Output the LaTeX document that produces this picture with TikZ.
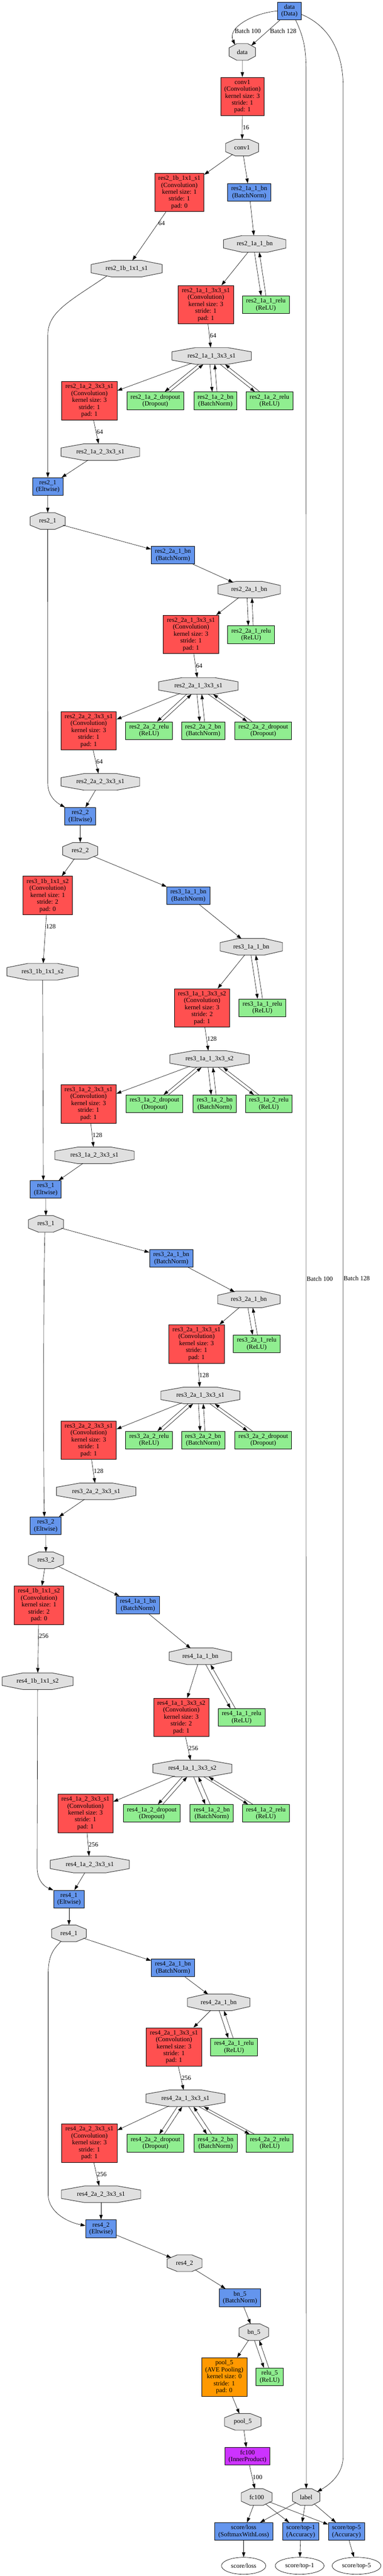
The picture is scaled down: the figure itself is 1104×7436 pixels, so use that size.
\documentclass[tikz,border=0pt]{standalone}
\usepackage{fontspec}
\setmainfont{Liberation Serif}
\usetikzlibrary{arrows.meta,calc,shapes.geometric}
\definecolor{convred}{HTML}{FF5050}
\definecolor{lblue}{HTML}{6495ED}
\definecolor{lgreen}{HTML}{90EE90}
\definecolor{bgray}{HTML}{E0E0E0}
\definecolor{porange}{HTML}{FF9900}
\definecolor{ppurple}{HTML}{CC33FF}
\newcommand\gvf{\fontsize{18.5pt}{20pt}\selectfont}
\newcommand\convtxt[4]{#1\\(Convolution)\\kernel size: #2\\stride: #3\\pad: #4}
\tikzset{
  gvlayer/.style={draw=black, line width=1.2pt, font=\gvf, align=center, inner xsep=10.5pt, inner ysep=3pt},
  gvconv/.style={gvlayer, fill=convred, minimum height=111pt},
  gvpool/.style={gvlayer, fill=porange, minimum height=111pt},
  gvip/.style={gvlayer, fill=ppurple, minimum height=51pt},
  gvblue/.style={gvlayer, fill=lblue, minimum height=51pt},
  gvgreen/.style={gvlayer, fill=lgreen, minimum height=51pt},
  blobshape/.style={draw=black!80, line width=1.4pt, fill=bgray},
  blobtxt/.style={ellipse, inner sep=0pt, font=\gvf, minimum height=48pt},
  gvout/.style={ellipse, draw=black, line width=1pt, fill=white, font=\gvf, minimum height=49pt, inner sep=0pt},
  arr/.style={-{Triangle[length=14pt,width=9.5pt]}, line width=0.9pt},
  lbl/.style={font=\gvf, inner sep=1pt, anchor=west},
}
\newcommand\blob[5]{%
  \filldraw[blobshape] ({#2-#4/2},{#3-12}) -- ({#2-0.207*#4},{#3-24}) -- ({#2+0.207*#4},{#3-24}) -- ({#2+#4/2},{#3-12}) -- ({#2+#4/2},{#3+12}) -- ({#2+0.207*#4},{#3+24}) -- ({#2-0.207*#4},{#3+24}) -- ({#2-#4/2},{#3+12}) -- cycle;
  \node[blobtxt, minimum width=#4pt] (#1) at (#2,#3) {#5};
}
\newcommand\pair[2]{%
  \draw[arr] let \p1=(#1.south), \p2=(#2.north), \n1={0.19*(\x2-\x1)}, \n2={-0.21*(\x2-\x1)} in
    ({\x1+(\n1)-7pt},\y1) -- ({\x2+(\n2)-7pt},\y2);
  \draw[arr] let \p1=(#1.south), \p2=(#2.north), \n1={0.19*(\x2-\x1)}, \n2={-0.21*(\x2-\x1)} in
    ({\x2+(\n2)+7pt},\y2) -- ({\x1+(\n1)+7pt},\y1);
}
\begin{document}
\begin{tikzpicture}[x=1pt,y=-1pt]
\fill[white] (0,0) rectangle (1104,7436);
\useasboundingbox (0,0) rectangle (1104,7436);

% ---------- top ----------
\node[gvblue] (dataL) at (835,31.5) {data\\(Data)};
\blob{dataB}{699}{150}{76}{data}
\node[gvconv] (conv1L) at (699.5,278.5) {\convtxt{conv1}{3}{1}{1}};
\blob{conv1B}{698.5}{426}{95}{conv1}

% ---------- res2_1 ----------
\node[gvconv] (a1b) at (517.5,555.5) {\convtxt{res2\_1b\_1x1\_s1}{1}{1}{0}};
\node[gvblue] (a1bn) at (719,555.5) {res2\_1a\_1\_bn\\(BatchNorm)};
\blob{a1bnB}{735}{704}{180}{res2\_1a\_1\_bn}
\blob{a1bB}{365.5}{775.5}{205}{res2\_1b\_1x1\_s1}
\node[gvconv] (a11c) at (594,879.5) {\convtxt{res2\_1a\_1\_3x3\_s1}{3}{1}{1}};
\node[gvgreen] (a11r) at (767,879.5) {res2\_1a\_1\_relu\\(ReLU)};
\blob{a11B}{610.5}{1027.5}{229}{res2\_1a\_1\_3x3\_s1}
\node[gvconv] (a12c) at (258,1157) {\convtxt{res2\_1a\_2\_3x3\_s1}{3}{1}{1}};
\node[gvgreen] (a12d) at (448,1157) {res2\_1a\_2\_dropout\\(Dropout)};
\node[gvgreen] (a12b) at (621.5,1157) {res2\_1a\_2\_bn\\(BatchNorm)};
\node[gvgreen] (a12r) at (777.5,1157) {res2\_1a\_2\_relu\\(ReLU)};
\blob{a12B}{289.5}{1305}{227}{res2\_1a\_2\_3x3\_s1}
\node[gvblue] (a1L) at (138,1404.5) {res2\_1\\(Eltwise)};
\blob{a1B}{137.5}{1504}{101}{res2\_1}

% ---------- res2_2 ----------
\node[gvblue] (a2bn) at (499,1602.5) {res2\_2a\_1\_bn\\(BatchNorm)};
\blob{a2bnB}{719}{1702}{180}{res2\_2a\_1\_bn}
\node[gvconv] (a21c) at (551,1831.5) {\convtxt{res2\_2a\_1\_3x3\_s1}{3}{1}{1}};
\node[gvgreen] (a21r) at (724.5,1832) {res2\_2a\_1\_relu\\(ReLU)};
\blob{a21B}{572.5}{1980}{229}{res2\_2a\_1\_3x3\_s1}
\node[gvconv] (a22c) at (256,2109.5) {\convtxt{res2\_2a\_2\_3x3\_s1}{3}{1}{1}};
\node[gvgreen] (a22r) at (430,2109) {res2\_2a\_2\_relu\\(ReLU)};
\node[gvgreen] (a22b) at (586,2109) {res2\_2a\_2\_bn\\(BatchNorm)};
\node[gvgreen] (a22d) at (759.5,2109) {res2\_2a\_2\_dropout\\(Dropout)};
\blob{a22B}{289.5}{2257}{227}{res2\_2a\_2\_3x3\_s1}
\node[gvblue] (a2L) at (231.5,2356.5) {res2\_2\\(Eltwise)};
\blob{a2B}{231.5}{2456}{101}{res2\_2}

% ---------- res3_1 ----------
\node[gvconv] (b1b) at (137.5,2585) {\convtxt{res3\_1b\_1x1\_s2}{1}{2}{0}};
\node[gvblue] (b1bn) at (543.5,2585.5) {res3\_1a\_1\_bn\\(BatchNorm)};
\blob{b1bnB}{725}{2733}{180}{res3\_1a\_1\_bn}
\blob{b1bB}{123}{2805}{206}{res3\_1b\_1x1\_s2}
\node[gvconv] (b11c) at (583,2909.5) {\convtxt{res3\_1a\_1\_3x3\_s2}{3}{2}{1}};
\node[gvgreen] (b11r) at (757,2909) {res3\_1a\_1\_relu\\(ReLU)};
\blob{b11B}{604.5}{3057}{229}{res3\_1a\_1\_3x3\_s2}
\node[gvconv] (b12c) at (255.5,3186.5) {\convtxt{res3\_1a\_2\_3x3\_s1}{3}{1}{1}};
\node[gvgreen] (b12d) at (445.5,3186.5) {res3\_1a\_2\_dropout\\(Dropout)};
\node[gvgreen] (b12b) at (619.5,3186.5) {res3\_1a\_2\_bn\\(BatchNorm)};
\node[gvgreen] (b12r) at (775.5,3186.5) {res3\_1a\_2\_relu\\(ReLU)};
\blob{b12B}{272.5}{3335}{229}{res3\_1a\_2\_3x3\_s1}
\node[gvblue] (b1L) at (132,3433.5) {res3\_1\\(Eltwise)};
\blob{b1B}{132.5}{3533}{101}{res3\_1}

% ---------- res3_2 ----------
\node[gvblue] (b2bn) at (494,3632.5) {res3\_2a\_1\_bn\\(BatchNorm)};
\blob{b2bnB}{718}{3751}{180}{res3\_2a\_1\_bn}
\node[gvconv] (b21c) at (567,3879.5) {\convtxt{res3\_2a\_1\_3x3\_s1}{3}{1}{1}};
\node[gvgreen] (b21r) at (740.5,3879.5) {res3\_2a\_1\_relu\\(ReLU)};
\blob{b21B}{578}{4028}{228}{res3\_2a\_1\_3x3\_s1}
\node[gvconv] (b22c) at (256,4157.5) {\convtxt{res3\_2a\_2\_3x3\_s1}{3}{1}{1}};
\node[gvgreen] (b22r) at (430,4157) {res3\_2a\_2\_relu\\(ReLU)};
\node[gvgreen] (b22b) at (586,4157) {res3\_2a\_2\_bn\\(BatchNorm)};
\node[gvgreen] (b22d) at (759.5,4157) {res3\_2a\_2\_dropout\\(Dropout)};
\blob{b22B}{277.5}{4305}{229}{res3\_2a\_2\_3x3\_s1}
\node[gvblue] (b2L) at (132,4404.5) {res3\_2\\(Eltwise)};
\blob{b2B}{132.5}{4504}{101}{res3\_2}

% ---------- res4_1 ----------
\node[gvconv] (c1b) at (112.5,4633.5) {\convtxt{res4\_1b\_1x1\_s2}{1}{2}{0}};
\node[gvblue] (c1bn) at (398,4633) {res4\_1a\_1\_bn\\(BatchNorm)};
\blob{c1bnB}{578}{4781}{180}{res4\_1a\_1\_bn}
\blob{c1bB}{108.5}{4853}{205}{res4\_1b\_1x1\_s2}
\node[gvconv] (c11c) at (523,4957.5) {\convtxt{res4\_1a\_1\_3x3\_s2}{3}{2}{1}};
\node[gvgreen] (c11r) at (697,4957.5) {res4\_1a\_1\_relu\\(ReLU)};
\blob{c11B}{555}{5105}{228}{res4\_1a\_1\_3x3\_s2}
\node[gvconv] (c12c) at (246.5,5234.5) {\convtxt{res4\_1a\_2\_3x3\_s1}{3}{1}{1}};
\node[gvgreen] (c12d) at (438,5234.5) {res4\_1a\_2\_dropout\\(Dropout)};
\node[gvgreen] (c12b) at (611,5234.5) {res4\_1a\_2\_bn\\(BatchNorm)};
\node[gvgreen] (c12r) at (767,5234.5) {res4\_1a\_2\_relu\\(ReLU)};
\blob{c12B}{259}{5382}{228}{res4\_1a\_2\_3x3\_s1}
\node[gvblue] (c1L) at (199,5482) {res4\_1\\(Eltwise)};
\blob{c1B}{199}{5581}{100}{res4\_1}

% ---------- res4_2 ----------
\node[gvblue] (c2bn) at (499,5680.5) {res4\_2a\_1\_bn\\(BatchNorm)};
\blob{c2bnB}{631}{5780}{180}{res4\_2a\_1\_bn}
\node[gvconv] (c21c) at (502,5909) {\convtxt{res4\_2a\_1\_3x3\_s1}{3}{1}{1}};
\node[gvgreen] (c21r) at (675,5909.5) {res4\_2a\_1\_relu\\(ReLU)};
\blob{c21B}{535}{6057}{228}{res4\_2a\_1\_3x3\_s1}
\node[gvconv] (c22c) at (258,6186.5) {\convtxt{res4\_2a\_2\_3x3\_s1}{3}{1}{1}};
\node[gvgreen] (c22d) at (448.5,6186.5) {res4\_2a\_2\_dropout\\(Dropout)};
\node[gvgreen] (c22b) at (622,6186.5) {res4\_2a\_2\_bn\\(BatchNorm)};
\node[gvgreen] (c22r) at (778,6186.5) {res4\_2a\_2\_relu\\(ReLU)};
\blob{c22B}{291.5}{6334}{229}{res4\_2a\_2\_3x3\_s1}
\node[gvblue] (c2L) at (291.5,6433.5) {res4\_2\\(Eltwise)};
\blob{c2B}{532.5}{6533}{101}{res4\_2}

% ---------- tail ----------
\node[gvblue] (bn5L) at (692.5,6632.5) {bn\_5\\(BatchNorm)};
\blob{bn5B}{732.5}{6732}{85}{bn\_5}
\node[gvpool] (pool5L) at (647,6861.5) {pool\_5\\(AVE Pooling)\\kernel size: 0\\stride: 1\\pad: 0};
\node[gvgreen] (relu5L) at (778,6861) {relu\_5\\(ReLU)};
\blob{pool5B}{700.5}{6991}{105}{pool\_5}
\node[gvip] (fcL) at (714,7090.5) {fc100\\(InnerProduct)};
\blob{fcB}{740.5}{7208}{89}{fc100}
\blob{labelB}{883.5}{7208}{79}{label}
\node[gvblue] (lossL) at (703,7307.5) {score/loss\\(SoftmaxWithLoss)};
\node[gvblue] (top1L) at (867.5,7307.5) {score/top-1\\(Accuracy)};
\node[gvblue] (top5L) at (999.5,7307.5) {score/top-5\\(Accuracy)};
\node[gvout, minimum width=128pt] (lossE) at (703,7406.5) {score/loss};
\node[gvout, minimum width=141pt] (top1E) at (864.5,7406.5) {score/top-1};
\node[gvout, minimum width=141pt] (top5E) at (1028.5,7406.5) {score/top-5};

% ================= edges =================
\draw[arr] (dataL.west) .. controls (730,38) and (655,80) .. ($(dataB)+(-21,-21)$);
\node[lbl] (b100a) at (676,90) {Batch 100};
\draw[arr] ([xshift=-27pt]dataL.south) -- ($(dataB)+(26,-18.5)$);
\node[lbl] (b128a) at (778,90) {Batch 128};
\draw[arr] ([xshift=18pt]dataL.south) .. controls (872,100) and (883,130) .. (883,200)
   -- node[lbl,pos=.5]{Batch 100} (labelB.north);
\draw[arr] ([yshift=-10pt]dataL.east) .. controls (950,75) and (990,150) .. (990,250)
   -- node[lbl,pos=.503]{Batch 128} (990,7090) .. controls (990,7140) and (955,7170) .. ($(labelB)+(31.5,-15)$);

\draw[arr] (dataB) -- (conv1L);
\draw[arr] (conv1L) -- node[lbl]{16} (conv1B);

% res2_1
\draw[arr] (conv1B) -- (a1b);
\draw[arr] (conv1B) -- (a1bn);
\draw[arr] (a1b) -- node[lbl,pos=.24]{64} (a1bB);
\draw[arr] (a1bn) -- (a1bnB);
\draw[arr] (a1bnB) -- (a11c);
\pair{a1bnB}{a11r}
\draw[arr] (a11c) -- node[lbl]{64} (a11B);
\draw[arr] (a11B) -- (a12c);
\pair{a11B}{a12d}
\pair{a11B}{a12b}
\pair{a11B}{a12r}
\draw[arr] (a12c) -- node[lbl]{64} (a12B);
\draw[arr] (a12B) -- (a1L);
\draw[arr] ($(a1bB)+(-57,21)$) .. controls (200,870) and (138,900) .. (138,967) -- (a1L.north);
\draw[arr] (a1L) -- (a1B);

% res2_2
\draw[arr] (a1B) -- (a2bn);
\draw[arr] (a1B.south) -- (138,2262) .. controls (138,2300) and (165,2318) .. ([xshift=1pt]a2L.north west);
\draw[arr] (a2bn) -- (a2bnB);
\draw[arr] (a2bnB) -- (a21c);
\pair{a2bnB}{a21r}
\draw[arr] (a21c) -- node[lbl]{64} (a21B);
\draw[arr] (a21B) -- (a22c);
\pair{a21B}{a22r}
\pair{a21B}{a22b}
\pair{a21B}{a22d}
\draw[arr] (a22c) -- node[lbl]{64} (a22B);
\draw[arr] (a22B) -- (a2L);
\draw[arr] (a2L) -- (a2B);

% res3_1
\draw[arr] (a2B) -- (b1b);
\draw[arr] (a2B) -- (b1bn);
\draw[arr] (b1b) -- node[lbl,pos=.24]{128} (b1bB);
\draw[arr] (b1bn) -- (b1bnB);
\draw[arr] (b1bnB) -- (b11c);
\pair{b1bnB}{b11r}
\draw[arr] (b11c) -- node[lbl]{128} (b11B);
\draw[arr] (b11B) -- (b12c);
\pair{b11B}{b12d}
\pair{b11B}{b12b}
\pair{b11B}{b12r}
\draw[arr] (b12c) -- node[lbl]{128} (b12B);
\draw[arr] (b12B) -- (b1L);
\draw[arr] (b1bB.south) -- ([xshift=-7pt]b1L.north);
\draw[arr] (b1L) -- (b1B);

% res3_2
\draw[arr] (b1B) -- (b2bn);
\draw[arr] ([xshift=-3pt]b1B.south) .. controls (125,3700) and (125,4250) .. ([xshift=-4pt]b2L.north);
\draw[arr] (b2bn) -- (b2bnB);
\draw[arr] (b2bnB) -- (b21c);
\pair{b2bnB}{b21r}
\draw[arr] (b21c) -- node[lbl]{128} (b21B);
\draw[arr] (b21B) -- (b22c);
\pair{b21B}{b22r}
\pair{b21B}{b22b}
\pair{b21B}{b22d}
\draw[arr] (b22c) -- node[lbl]{128} (b22B);
\draw[arr] (b22B) -- (b2L);
\draw[arr] (b2L) -- (b2B);

% res4_1
\draw[arr] (b2B) -- (c1b);
\draw[arr] (b2B) -- (c1bn);
\draw[arr] (c1b) -- node[lbl,pos=.24]{256} (c1bB);
\draw[arr] (c1bn) -- (c1bnB);
\draw[arr] (c1bnB) -- (c11c);
\pair{c1bnB}{c11r}
\draw[arr] (c11c) -- node[lbl]{256} (c11B);
\draw[arr] (c11B) -- (c12c);
\pair{c11B}{c12d}
\pair{c11B}{c12b}
\pair{c11B}{c12r}
\draw[arr] (c12c) -- node[lbl]{256} (c12B);
\draw[arr] (c12B) -- (c1L);
\draw[arr] (c1bB.south) -- (107,5390) .. controls (107,5425) and (125,5445) .. (c1L.north west);
\draw[arr] (c1L) -- (c1B);

% res4_2
\draw[arr] (c1B) -- (c2bn);
\draw[arr] ($(c1B)+(-23,23)$) .. controls (150,5630) and (139,5650) .. (139,5700) -- (139,6335) .. controls (139,6385) and (195,6415) .. ([yshift=9pt]c2L.west);
\draw[arr] (c2bn) -- (c2bnB);
\draw[arr] (c2bnB) -- (c21c);
\pair{c2bnB}{c21r}
\draw[arr] (c21c) -- node[lbl]{256} (c21B);
\draw[arr] (c21B) -- (c22c);
\pair{c21B}{c22d}
\pair{c21B}{c22b}
\pair{c21B}{c22r}
\draw[arr] (c22c) -- node[lbl]{256} (c22B);
\draw[arr] (c22B) -- (c2L);
\draw[arr] (c2L) -- (c2B);

% tail
\draw[arr] (c2B) -- (bn5L);
\draw[arr] (bn5L) -- (bn5B);
\draw[arr] (bn5B) -- (pool5L);
\pair{bn5B}{relu5L}
\draw[arr] (pool5L) -- (pool5B);
\draw[arr] (pool5B) -- (fcL);
\draw[arr] (fcL) -- node[lbl]{100} (fcB);
\draw[arr] (fcB) -- (lossL);
\draw[arr] (fcB) -- (top1L);
\draw[arr] (fcB) -- (top5L);
\draw[arr] (labelB) -- (lossL);
\draw[arr] (labelB) -- (top1L);
\draw[arr] (labelB) -- (top5L);
\draw[arr] (lossL) -- (lossE);
\draw[arr] (top1L) -- (top1E);
\draw[arr] (top5L) -- (top5E);
\end{tikzpicture}
\end{document}
